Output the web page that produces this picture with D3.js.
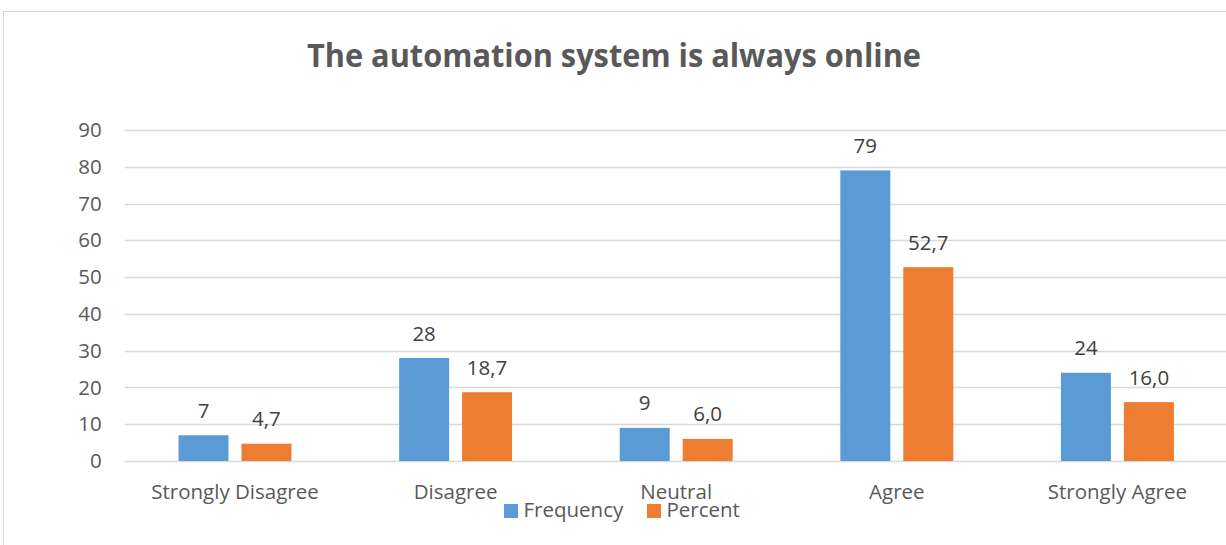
<!DOCTYPE html>
<html><head><meta charset="utf-8">
<script src="https://cdn.jsdelivr.net/npm/d3@7"></script>
<style>body{margin:0;background:#fff;overflow:hidden}svg{display:block}</style>
</head><body>
<svg id="c" width="1226" height="545"></svg>
<script>
const categories = ["Strongly Disagree","Disagree","Neutral","Agree","Strongly Agree"];
const series = ["Frequency","Percent"];
const frequency = [7,28,9,79,24];
const percent = [4.7,18.7,6.0,52.7,16.0];
const yTicks = [0,10,20,30,40,50,60,70,80,90];
const colors = ["#5B9BD5","#ED7D31"];
const title = "The automation system is always online";

(function(){
const svg = d3.select("#c");
const font = "'Open Sans', 'Noto Sans', sans-serif";
const fs = 20.5;
svg.append("rect").attr("x",3.5).attr("y",11.5).attr("width",1240).attr("height",560)
  .attr("fill","#fff").attr("stroke","#d9d9d9").attr("stroke-width",1);

const pl = 124.7, pr = 1227.7, pt = 130, pb = 461;
const x0 = d3.scaleBand().domain(categories).range([pl,pr]).padding(0);
const bw = x0.bandwidth();
const x1 = d3.scaleBand().domain(series).range([bw*0.244, bw*0.756]).paddingInner(0.206).paddingOuter(0);
const y = d3.scaleLinear().domain([0,90]).range([pb,pt]);

svg.append("text").attr("x",307).attr("y",67)
  .attr("textLength",614).attr("lengthAdjust","spacingAndGlyphs")
  .attr("font-family",font).attr("font-weight","bold").attr("font-size",32)
  .attr("fill","#595959").text(title);

svg.append("g").selectAll("line").data(yTicks).join("line")
  .attr("x1",pl).attr("x2",pr).attr("y1",d=>Math.round(y(d))+0.5).attr("y2",d=>Math.round(y(d))+0.5)
  .attr("stroke","#d9d9d9").attr("stroke-width",1.3);

const yAxis = svg.append("g").attr("transform",`translate(${pl},0)`)
  .call(d3.axisLeft(y).tickValues(yTicks).tickSize(0).tickPadding(23));
yAxis.select(".domain").remove();
yAxis.selectAll("text").attr("font-family",font).attr("font-size",fs).attr("fill","#595959");

const data = categories.map((c,i)=>({c, vals:[{s:series[0],v:frequency[i],lab:String(frequency[i])},{s:series[1],v:percent[i],lab:percent[i].toFixed(1).replace(".",",")}]}));
const g = svg.append("g").selectAll("g").data(data).join("g").attr("transform",d=>`translate(${x0(d.c)},0)`);
g.selectAll("rect").data(d=>d.vals).join("rect")
  .attr("x",d=>x1(d.s)).attr("width",x1.bandwidth())
  .attr("y",d=>y(d.v)).attr("height",d=>y(0)-y(d.v))
  .attr("fill",(d,i)=>colors[i]);
g.selectAll("text").data(d=>d.vals).join("text")
  .attr("x",d=>x1(d.s)+x1.bandwidth()/2).attr("y",d=>y(d.v)-17.5)
  .attr("text-anchor","middle").attr("font-family",font).attr("font-size",fs).attr("fill","#404040")
  .text(d=>d.lab);

svg.append("g").selectAll("text").data(categories).join("text")
  .attr("x",d=>x0(d)+bw/2).attr("y",499).attr("text-anchor","middle")
  .attr("font-family",font).attr("font-size",fs).attr("fill","#595959").text(d=>d);

const legX = [504,647];
const lg = svg.append("g").selectAll("g").data(series).join("g").attr("transform",(d,i)=>`translate(${legX[i]},504)`);
lg.append("rect").attr("width",14).attr("height",14).attr("fill",(d,i)=>colors[i]);
lg.append("text").attr("x",19.5).attr("y",13).attr("font-family",font).attr("font-size",fs).attr("fill","#595959").text(d=>d);
})();
</script>
</body></html>
